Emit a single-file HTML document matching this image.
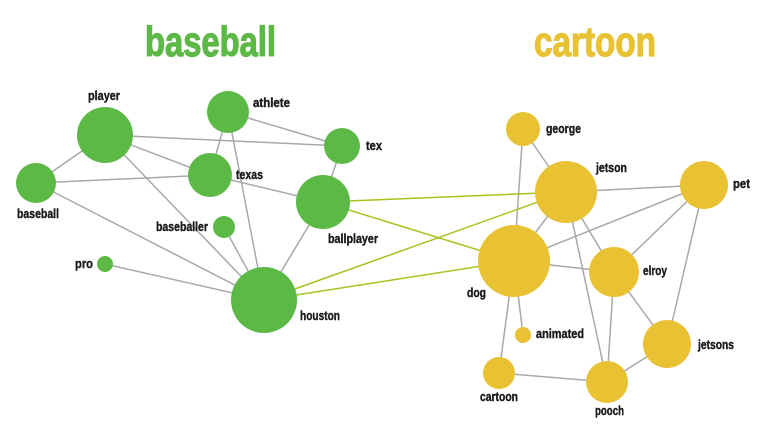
<!DOCTYPE html>
<html><head><meta charset="utf-8"><style>
html,body{margin:0;padding:0;background:#fff;}
svg{display:block;}
text{font-family:"Liberation Sans",sans-serif;font-weight:bold;}
</style></head><body>
<svg width="766" height="444" viewBox="0 0 766 444" xmlns="http://www.w3.org/2000/svg">
<text x="145" y="56" font-size="42" fill="#5cb946" stroke="#5cb946" stroke-width="1.2" textLength="131" lengthAdjust="spacingAndGlyphs">baseball</text>
<text x="534" y="56" font-size="42" fill="#e8c232" stroke="#e8c232" stroke-width="1.2" textLength="122" lengthAdjust="spacingAndGlyphs">cartoon</text>
<g stroke="#a8a8a8" stroke-width="1.5">
<line x1="105" y1="135" x2="342" y2="146"/>
<line x1="105" y1="135" x2="210" y2="175"/>
<line x1="105" y1="135" x2="36" y2="183"/>
<line x1="105" y1="135" x2="264" y2="300"/>
<line x1="228" y1="112" x2="342" y2="146"/>
<line x1="228" y1="112" x2="210" y2="175"/>
<line x1="228" y1="112" x2="264" y2="300"/>
<line x1="210" y1="175" x2="36" y2="183"/>
<line x1="210" y1="175" x2="323" y2="202"/>
<line x1="342" y1="146" x2="323" y2="202"/>
<line x1="36" y1="183" x2="264" y2="300"/>
<line x1="224" y1="227" x2="264" y2="300"/>
<line x1="105" y1="264" x2="264" y2="300"/>
<line x1="323" y1="202" x2="264" y2="300"/>
<line x1="523" y1="129" x2="566" y2="192"/>
<line x1="523" y1="129" x2="514" y2="261"/>
<line x1="566" y1="192" x2="704" y2="185"/>
<line x1="566" y1="192" x2="514" y2="261"/>
<line x1="566" y1="192" x2="614" y2="272"/>
<line x1="566" y1="192" x2="607" y2="382"/>
<line x1="514" y1="261" x2="704" y2="185"/>
<line x1="514" y1="261" x2="614" y2="272"/>
<line x1="514" y1="261" x2="523" y2="335"/>
<line x1="514" y1="261" x2="499" y2="373"/>
<line x1="704" y1="185" x2="614" y2="272"/>
<line x1="704" y1="185" x2="667" y2="344"/>
<line x1="614" y1="272" x2="607" y2="382"/>
<line x1="614" y1="272" x2="667" y2="344"/>
<line x1="499" y1="373" x2="607" y2="382"/>
<line x1="607" y1="382" x2="667" y2="344"/>
</g>
<g stroke="#a4c41e" stroke-width="1.5">
<line x1="323" y1="202" x2="566" y2="192"/>
<line x1="323" y1="202" x2="514" y2="261"/>
<line x1="264" y1="300" x2="566" y2="192"/>
<line x1="264" y1="300" x2="514" y2="261"/>
</g>
<g fill="#5cb946">
<circle cx="105" cy="135" r="28"/>
<circle cx="228" cy="112" r="21"/>
<circle cx="342" cy="146" r="18"/>
<circle cx="210" cy="175" r="22"/>
<circle cx="36" cy="183" r="20"/>
<circle cx="224" cy="227" r="11"/>
<circle cx="323" cy="202" r="27"/>
<circle cx="105" cy="264" r="8"/>
<circle cx="264" cy="300" r="33"/>
</g>
<g fill="#e8c232">
<circle cx="523" cy="129" r="17"/>
<circle cx="566" cy="192" r="31"/>
<circle cx="704" cy="185" r="24"/>
<circle cx="514" cy="261" r="36"/>
<circle cx="614" cy="272" r="25"/>
<circle cx="523" cy="335" r="8"/>
<circle cx="667" cy="344" r="24"/>
<circle cx="499" cy="373" r="16"/>
<circle cx="607" cy="382" r="21"/>
</g>
<g fill="#1a1a1a" stroke="#1a1a1a" stroke-width="0.4" font-size="13">
<text x="88" y="100" textLength="32" lengthAdjust="spacingAndGlyphs">player</text>
<text x="253" y="107" textLength="37" lengthAdjust="spacingAndGlyphs">athlete</text>
<text x="366" y="150" textLength="16" lengthAdjust="spacingAndGlyphs">tex</text>
<text x="236" y="179" textLength="27" lengthAdjust="spacingAndGlyphs">texas</text>
<text x="17" y="218" textLength="42" lengthAdjust="spacingAndGlyphs">baseball</text>
<text x="156" y="231" textLength="52" lengthAdjust="spacingAndGlyphs">baseballer</text>
<text x="328" y="243" textLength="50" lengthAdjust="spacingAndGlyphs">ballplayer</text>
<text x="75" y="268" textLength="18" lengthAdjust="spacingAndGlyphs">pro</text>
<text x="300" y="320" textLength="40" lengthAdjust="spacingAndGlyphs">houston</text>
<text x="546" y="133" textLength="35" lengthAdjust="spacingAndGlyphs">george</text>
<text x="596" y="172" textLength="31" lengthAdjust="spacingAndGlyphs">jetson</text>
<text x="733" y="188" textLength="17" lengthAdjust="spacingAndGlyphs">pet</text>
<text x="467" y="297" textLength="19" lengthAdjust="spacingAndGlyphs">dog</text>
<text x="643" y="275" textLength="24" lengthAdjust="spacingAndGlyphs">elroy</text>
<text x="536" y="338" textLength="48" lengthAdjust="spacingAndGlyphs">animated</text>
<text x="698" y="349" textLength="36" lengthAdjust="spacingAndGlyphs">jetsons</text>
<text x="480" y="401" textLength="38" lengthAdjust="spacingAndGlyphs">cartoon</text>
<text x="595" y="415" textLength="29" lengthAdjust="spacingAndGlyphs">pooch</text>
</g>
</svg>
</body></html>
